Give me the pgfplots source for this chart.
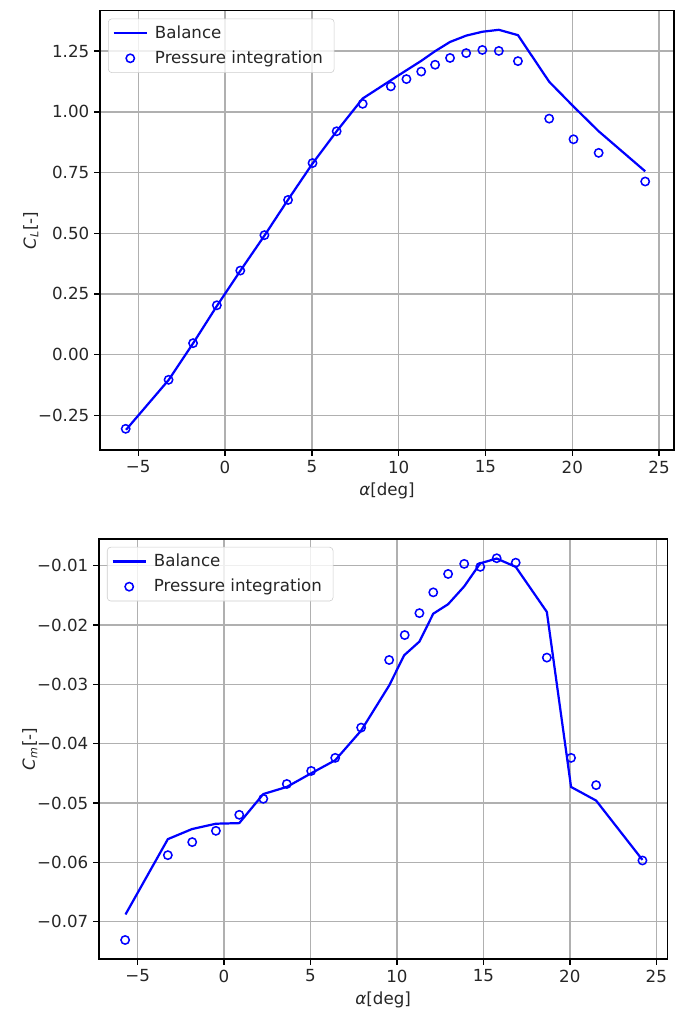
\documentclass[border=0pt]{standalone}
\usepackage{fontspec}
\setmainfont{DejaVu Sans}
\usepackage{pgfplots}
\usepackage{pgfplotstable}
\pgfplotsset{compat=1.18}
\definecolor{gridgray}{HTML}{B0B0B0}
\definecolor{legframe}{HTML}{CCCCCC}
\definecolor{txt}{HTML}{262626}

\pgfplotstableread{
a cl cm
-5.70 -0.310 -0.0688
-3.25 -0.105 -0.0561
-1.85 0.045 -0.0544
-0.47 0.200 -0.0535
0.88 0.345 -0.0534
2.27 0.490 -0.0485
3.63 0.638 -0.0473
5.04 0.787 -0.0450
6.43 0.920 -0.0428
7.93 1.055 -0.0378
9.55 1.130 -0.0302
10.42 1.170 -0.0251
11.30 1.210 -0.0228
12.10 1.250 -0.0181
12.96 1.288 -0.0165
13.89 1.314 -0.0135
14.82 1.330 -0.0096
15.77 1.338 -0.0088
16.87 1.316 -0.0102
18.67 1.124 -0.0178
20.07 1.022 -0.0473
21.52 0.920 -0.0496
24.20 0.755 -0.0596
}\balance

\pgfplotstableread{
a cl cm
-5.72 -0.306 -0.0731
-3.25 -0.104 -0.0588
-1.84 0.047 -0.0566
-0.47 0.203 -0.0547
0.88 0.346 -0.0520
2.27 0.492 -0.0493
3.63 0.637 -0.0468
5.04 0.789 -0.0446
6.43 0.920 -0.0424
7.93 1.033 -0.0373
9.55 1.105 -0.0259
10.45 1.135 -0.0217
11.30 1.166 -0.0180
12.10 1.194 -0.0145
12.96 1.222 -0.0114
13.89 1.242 -0.0097
14.82 1.255 -0.0102
15.77 1.251 -0.00875
16.87 1.209 -0.0095
18.67 0.972 -0.0255
20.07 0.887 -0.0424
21.52 0.831 -0.0470
24.20 0.713 -0.0597
}\pressure

\pgfplotsset{
  mystyle/.style={
    scale only axis,
    anchor=south west,
    axis line style={black, line width=1pt},
    grid=major,
    major grid style={gridgray, line width=1pt},
    tick align=outside,
    major tick length=4.2pt,
    every tick/.style={black, line width=1pt},
    xtick pos=left, ytick pos=left,
    scaled y ticks=false, scaled x ticks=false,
    tick label style={font=\fontsize{12}{14}\selectfont, text=txt},
    label style={font=\fontsize{12}{14}\selectfont, text=txt},
    ylabel style={yshift=-7pt},
    xtick={-5,0,5,10,15,20,25},
    xticklabels={−5,0,5,10,15,20,25},
    xlabel={{\itshape α}[deg]},
    legend cell align=left,
    legend style={
      draw=legframe, rounded corners=2.5pt, fill=white, fill opacity=0.8, text opacity=1,
      font=\fontsize{12}{14}\selectfont, anchor=north west, text=txt,
      inner xsep=3pt, inner ysep=3pt, row sep=3.5pt,
      nodes={inner xsep=5pt},
    },
  },
  balstyle/.style={blue, line width=1.6pt, mark=none,
    legend image code/.code={\draw[##1] (0pt,0pt) -- (24pt,0pt);}},
  presstyle/.style={blue, only marks, mark=o, mark size=3pt, mark options={line width=1.1pt},
    legend image code/.code={\path[draw=none] (0pt,0pt) -- (24pt,0pt); \draw[##1, only marks] plot coordinates {(12pt,0pt)};}},
}

\begin{document}
\begin{tikzpicture}
\useasboundingbox (0,0) rectangle (490.32pt,729.36pt);
\begin{axis}[mystyle,
  at={(72pt,405.4pt)}, width=413.3pt, height=316.3pt,
  xmin=-7.2, xmax=25.86, ymin=-0.393, ymax=1.417,
  ytick={-0.25,0,0.25,0.5,0.75,1,1.25},
  yticklabels={−0.25,0.00,0.25,0.50,0.75,1.00,1.25},
  ylabel={{\itshape C}\textsubscript{\itshape L}[-]},
  legend style={at={(0.014,0.982)}},
]
\addplot[balstyle] table[x=a, y=cl] {\balance};
\addlegendentry{Balance}
\addplot[presstyle] table[x=a, y=cl] {\pressure};
\addlegendentry{Pressure integration}
\end{axis}

\begin{axis}[mystyle,
  at={(71.3pt,38.9pt)}, width=409.2pt, height=302.4pt,
  xmin=-7.23, xmax=25.64, ymin=-0.0763, ymax=-0.0055,
  ytick={-0.07,-0.06,-0.05,-0.04,-0.03,-0.02,-0.01},
  yticklabels={−0.07,−0.06,−0.05,−0.04,−0.03,−0.02,−0.01},
  ylabel={{\itshape C}\textsubscript{\itshape m}[-]},
  legend style={at={(0.014,0.981)}},
]
\addplot[balstyle] table[x=a, y=cm] {\balance};
\addlegendentry{Balance}
\addplot[presstyle] table[x=a, y=cm] {\pressure};
\addlegendentry{Pressure integration}
\end{axis}
\end{tikzpicture}
\end{document}
